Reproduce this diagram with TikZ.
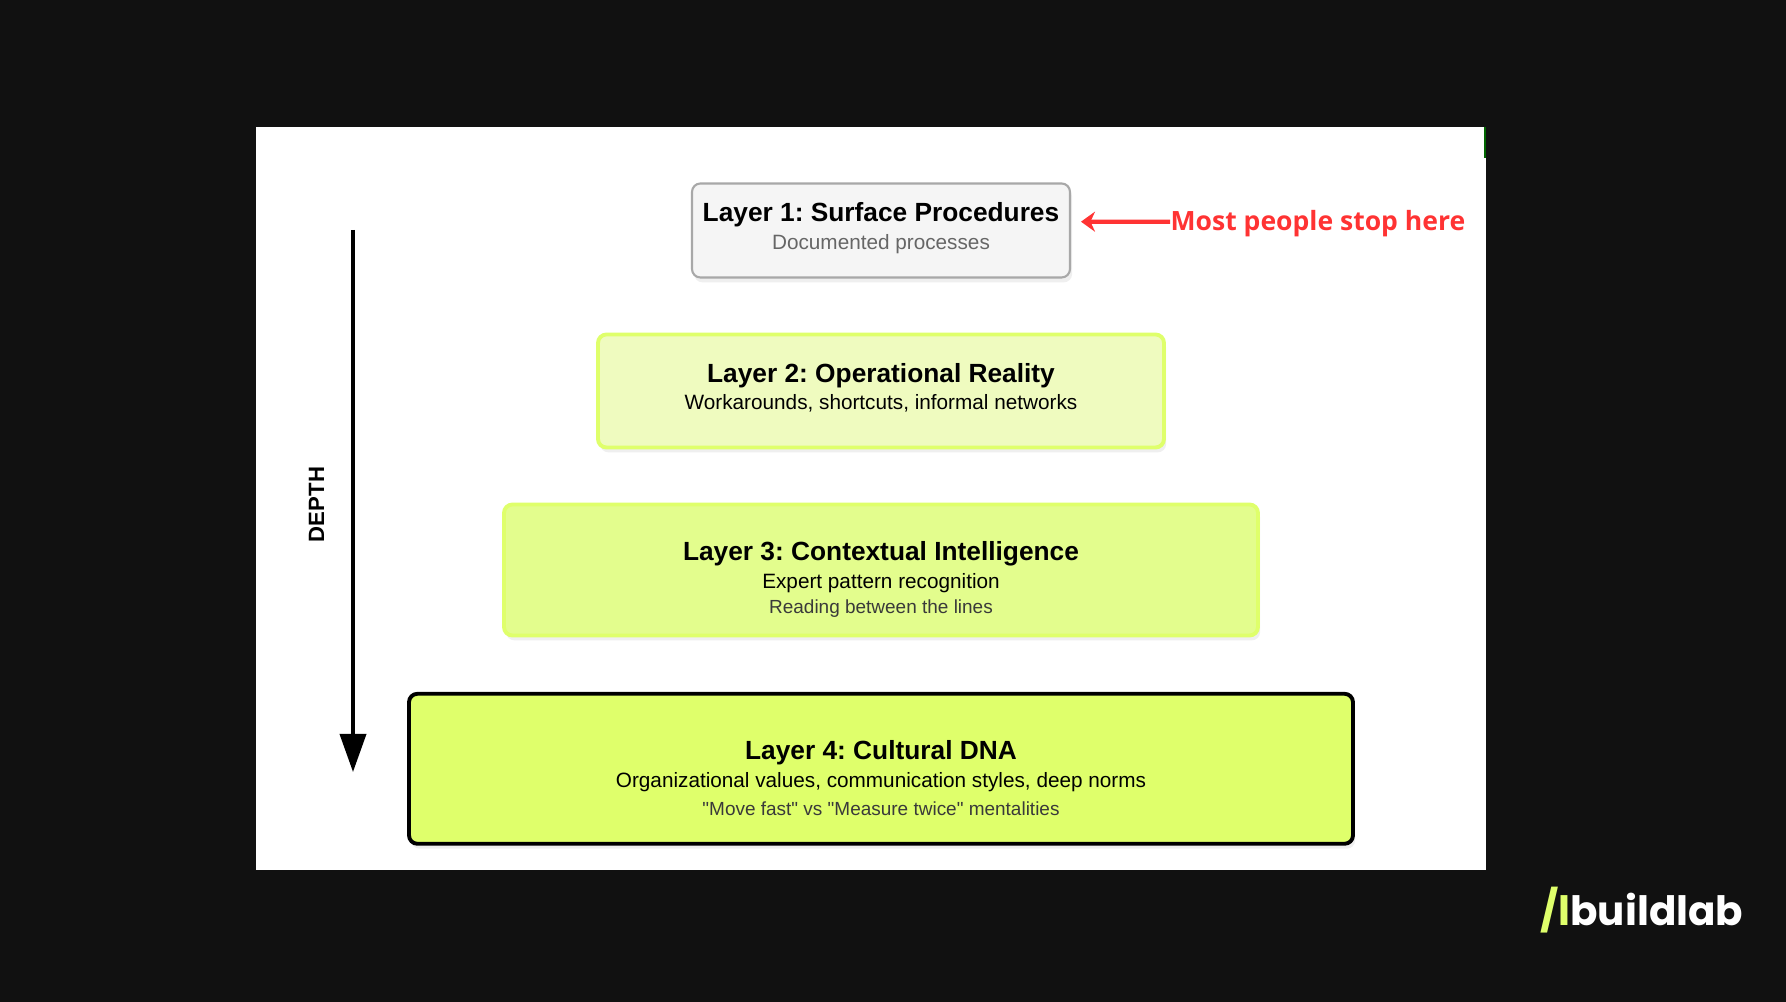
\documentclass[tikz,border=0pt]{standalone}
\usepackage{fontspec}
\setmainfont{Liberation Sans}
\newfontfamily\noteFont{Open Sans}
\newfontfamily\logoFont{Poppins}
\newfontfamily\quoteFont[Ligatures=ResetAll]{Liberation Sans}
\usepackage{tikz}
\usetikzlibrary{arrows.meta, positioning, shadows, calc}
\definecolor{fondoOscuro}{HTML}{111111}
\definecolor{grisCaja}{HTML}{F5F5F5}
\definecolor{grisBorde}{HTML}{A8A8A8}
\definecolor{grisTexto}{HTML}{666666}
\definecolor{grisNota}{HTML}{3A3A3A}
\definecolor{limaClaro}{HTML}{EFFBBF}
\definecolor{limaMedio}{HTML}{E3FD8D}
\definecolor{limaFuerte}{HTML}{DFFF6B}
\definecolor{rojoNota}{HTML}{FF3333}
\newcommand{\layerTitle}[1]{{\fontsize{7.48}{7}\selectfont\bfseries #1}}
\newcommand{\layerSub}[1]{{\fontsize{5.9}{7}\selectfont #1}}
\newcommand{\layerNote}[1]{{\fontsize{5.4}{7}\selectfont\color{grisNota} #1}}
\frenchspacing
\begin{document}
\begin{tikzpicture}[
        layerbox/.style={rounded corners=2.4pt, line width=1.1pt, outer sep=0pt,
            drop shadow={opacity=0.12, shadow xshift=0.6pt, shadow yshift=-1.4pt}},
        layertext/.style={align=center, inner sep=0pt, text=black, font=\fontsize{7}{7}\selectfont},
        depth/.style={-{Triangle[length=3.8mm, width=2.6mm]}, line width=1.05pt, black},
        note/.style={-{Stealth[length=1.4mm, width=2mm]}, rojoNota, line width=1.2pt}
    ]
        \useasboundingbox (0,0) rectangle (17.86,10.02);
        \fill[fondoOscuro] (0,0) rectangle (17.86,10.02);
        \node[fill=white, minimum width=12.3cm, minimum height=7.43cm, inner sep=0pt, outer sep=0pt] (panel) at (8.71,5.035) {};
        \fill[green!40!black] (14.84,8.75) rectangle (14.86,8.44);

        \node[layerbox, draw=grisBorde, fill=grisCaja, minimum width=3.78cm, minimum height=0.94cm, line width=0.6pt] (layerA) at (8.81,7.715) {};
        \node[layerbox, draw=limaFuerte, fill=limaClaro, minimum width=5.66cm, minimum height=1.13cm, below=0.57cm of layerA] (layerB) {};
        \node[layerbox, draw=limaFuerte, fill=limaMedio, minimum width=7.54cm, minimum height=1.31cm, below=0.57cm of layerB] (layerC) {};
        \node[layerbox, draw=black, fill=limaFuerte, minimum width=9.44cm, minimum height=1.50cm, below=0.583cm of layerC] (layerD) {};

        \node[layertext, yshift=0.6pt] (textA) at (layerA) {\layerTitle{Layer 1: Surface Procedures}\\[0.9pt]\layerSub{\color{grisTexto}Documented processes}};
        \node[layertext, yshift=0.9pt] (textB) at (layerB) {\layerTitle{Layer 2: Operational Reality}\\[0.9pt]\layerSub{Workarounds, shortcuts, informal networks}};
        \node[layertext, yshift=-2.6pt] (textC) at (layerC) {\layerTitle{Layer 3: Contextual Intelligence}\\[0.9pt]\layerSub{Expert pattern recognition}\\[0.1pt]\layerNote{Reading between the lines}};
        \node[layertext, yshift=-2.6pt] (textD) at (layerD) {\layerTitle{Layer 4: Cultural DNA}\\[0.9pt]\layerSub{Organizational values, communication styles, deep norms}\\[1.1pt]\layerNote{\quoteFont "Move fast" vs "Measure twice" mentalities}};

        \coordinate (depthTop) at (3.53,7.72);
        \coordinate (depthEnd) at (3.53,2.30);
        \draw[depth] (depthTop) -- (depthEnd);
        \node[rotate=90, font=\fontsize{6.3}{7.4}\selectfont\bfseries] (depthLabel) at (3.165,4.975) {DEPTH};

        \node[font=\noteFont\fontsize{7.55}{9.4}\selectfont\bfseries, text=rojoNota, anchor=west, inner sep=0pt] (noteLabel) at (11.70,7.78) {Most people stop here};
        \draw[note] ([yshift=0.65pt]noteLabel.west) -- ($(noteLabel.west -| layerA.east)+(0.11,0.023)$);

        \node[font=\logoFont\fontsize{11.5}{14}\selectfont\bfseries, text=white, inner sep=0pt, anchor=east] (logo) at (17.44,0.92) {\textcolor{limaFuerte}{/l}buildlab};
    \end{tikzpicture}
\end{document}
